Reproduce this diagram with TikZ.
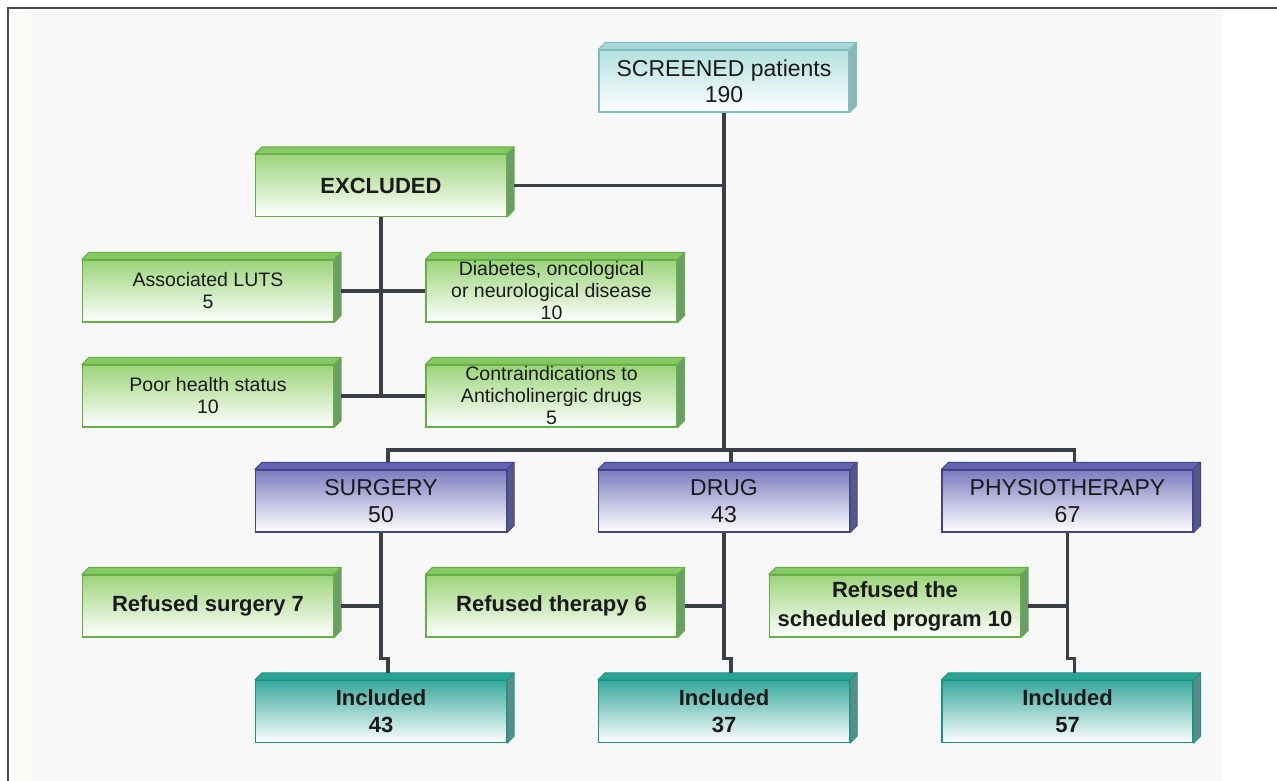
\documentclass[tikz,border=0pt]{standalone}
\usepackage{fontspec}
\setmainfont{Liberation Sans}
\usetikzlibrary{calc}
\definecolor{txt}{HTML}{1A1A1A}
\definecolor{linec}{HTML}{3A4046}
\definecolor{framec}{HTML}{4A4A4A}
\definecolor{panelbg}{HTML}{F8F8F8}
\definecolor{leftbg}{HTML}{FCFBF8}
\definecolor{cyT}{HTML}{B4E0E0}
\definecolor{cyTop}{HTML}{A8D8D8}
\definecolor{cyB}{HTML}{7EC0C0}
\definecolor{cyS}{HTML}{8DB5B5}
\definecolor{grT}{HTML}{9CD47A}
\definecolor{grTop}{HTML}{86C864}
\definecolor{grB}{HTML}{64B044}
\definecolor{grS}{HTML}{6C9C6C}
\definecolor{blT}{HTML}{7C7CC0}
\definecolor{blTop}{HTML}{6464B0}
\definecolor{blB}{HTML}{44448C}
\definecolor{blS}{HTML}{585888}
\definecolor{tlT}{HTML}{38A89C}
\definecolor{tlTop}{HTML}{2AA494}
\definecolor{tlB}{HTML}{1C9484}
\definecolor{tlS}{HTML}{5A8C88}
\tikzset{
  base/.style={rectangle, inner sep=0pt, minimum height=62pt, minimum width=251pt,
    align=center, line width=1.2pt, bottom color=white, text=txt},
  cyanbox/.style={base, draw=cyB, top color=cyT, minimum width=250pt, font=\fontsize{23}{26}\selectfont},
  greenhead/.style={base, draw=grB, top color=grT, font=\fontsize{22}{28}\selectfont\bfseries},
  greensmall/.style={base, draw=grB, top color=grT, font=\fontsize{19.5}{22}\selectfont},
  bluebox/.style={base, draw=blB, top color=blT, font=\fontsize{23}{27}\selectfont},
  tealbox/.style={base, draw=tlB, top color=tlT, font=\fontsize{22}{27}\selectfont\bfseries},
  conn/.style={draw=linec, line width=3.5pt},
}
\newcommand\boxfaces[4]{%
  \filldraw[fill=#2, draw=#4, line width=1pt, line join=round] (#1.north west) -- ++(7,7) -- ($(#1.north east)+(7,7)$) -- (#1.north east) -- cycle;
  \filldraw[fill=#3, draw=#4, line width=1pt, line join=round] (#1.north east) -- ++(7,7) -- ($(#1.south east)+(7,7)$) -- (#1.south east) -- cycle;
}
\begin{document}
\begin{tikzpicture}[x=1pt,y=1pt]
\useasboundingbox (0,0) rectangle (1277,-781);
\fill[white] (0,0) rectangle (1277,-781);
\fill[leftbg] (8,-8) rectangle (31,-781);
\fill[panelbg] (31,-8) rectangle (1222,-781);
\draw[framec, line width=2pt] (8,-781) -- (8,-8) -- (1277,-8);

% nodes
\node[cyanbox] (scr) at (724,-81) {SCREENED patients\\190};
\node[greenhead] (exc) at (381,-185.5) {EXCLUDED};
\node[greensmall] (luts) at (208,-291) {Associated LUTS\\5};
\node[greensmall] (diab) at (551.5,-291) {Diabetes, oncological\\or neurological disease\\10};
\node[greensmall] (poor) at (208,-396) {Poor health status\\10};
\node[greensmall] (contra) at (551.5,-396) {Contraindications to\\Anticholinergic drugs\\5};
\node[bluebox] (surg) at (381,-501) {SURGERY\\50};
\node[bluebox] (drug) at (724,-501) {DRUG\\43};
\node[bluebox] (phys) at (1067.5,-501) {PHYSIOTHERAPY\\67};
\node[greenhead] (refs) at (208,-606) {Refused surgery 7};
\node[greenhead] (reft) at (551.5,-606) {Refused therapy 6};
\node[greenhead, font=\fontsize{22}{29}\selectfont\bfseries] (refp) at (895,-606) {Refused the\\scheduled program 10};
\node[tealbox] (inc1) at (381,-711.5) {Included\\43};
\node[tealbox] (inc2) at (724,-711.5) {Included\\37};
\node[tealbox] (inc3) at (1067.5,-711.5) {Included\\57};

% 3D faces
\boxfaces{scr}{cyTop}{cyS}{cyB}
\foreach \n in {exc,luts,diab,poor,contra,refs,reft,refp}{\boxfaces{\n}{grTop}{grS}{grB}}
\foreach \n in {surg,drug,phys}{\boxfaces{\n}{blTop}{blS}{blB}}
\foreach \n in {inc1,inc2,inc3}{\boxfaces{\n}{tlTop}{tlS}{tlB}}

% connectors
\coordinate (hb) at (724,-450);
\draw[conn] (scr.south) -- (hb);
\draw[conn] ($(exc.east)+(7,0)$) -- (exc.east -| scr.south);
\draw[conn] (exc.south) -- (exc.south |- poor.east);
\draw[conn] ($(luts.east)+(7,0)$) -- (diab.west);
\draw[conn] ($(poor.east)+(7,0)$) -- (contra.west);
\draw[conn] ($(surg.north)+(7,7)$) |- (hb) -| ($(phys.north)+(7,7)$);
\draw[conn] ($(drug.north)+(7,7)$) |- (hb);
\foreach \t/\r/\i in {surg/refs/inc1, drug/reft/inc2, phys/refp/inc3}{
  \draw[conn] (\t.south) -- ++(0,-126) -| ($(\i.north)+(7,7)$);
  \draw[conn] ($(\r.east)+(7,0)$) -- (\r.east -| \t.south);
}
\end{tikzpicture}
\end{document}
